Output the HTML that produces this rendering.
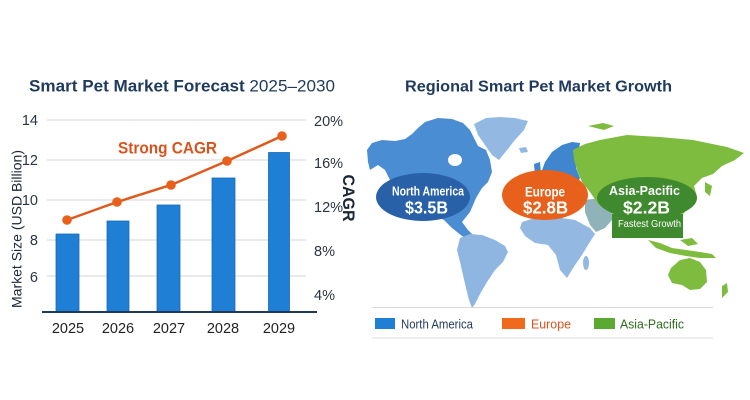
<!DOCTYPE html>
<html><head><meta charset="utf-8"><style>
html,body{margin:0;padding:0;background:#fff;}
svg{display:block;}
text{font-family:"Liberation Sans",sans-serif;}
</style></head><body>
<svg width="750" height="400" viewBox="0 0 750 400" xmlns="http://www.w3.org/2000/svg">
<rect width="750" height="400" fill="#ffffff"/>
<!-- LEFT CHART -->
<text x="29" y="91.5" font-size="17" fill="#1f3a5c" textLength="306" lengthAdjust="spacingAndGlyphs"><tspan font-weight="bold">Smart Pet Market Forecast</tspan> 2025–2030</text>
<g stroke="#d4d6d9" stroke-width="1">
<line x1="47" y1="120" x2="306" y2="120"/>
<line x1="47" y1="160" x2="306" y2="160"/>
<line x1="47" y1="200" x2="306" y2="200"/>
<line x1="47" y1="240" x2="306" y2="240"/>
<line x1="47" y1="276" x2="306" y2="276"/>
</g>
<g font-size="14.5" fill="#2b3442" text-anchor="end">
<text x="38" y="125">14</text>
<text x="38" y="165">12</text>
<text x="38" y="205">10</text>
<text x="38" y="245">8</text>
<text x="38" y="282">6</text>
</g>
<g font-size="14.5" fill="#2b3442">
<text x="314" y="126">20%</text>
<text x="314" y="168">16%</text>
<text x="314" y="212">12%</text>
<text x="314" y="256">8%</text>
<text x="314" y="300">4%</text>
</g>
<g fill="#1f7fd4" stroke="#1a6bb6" stroke-width="0.8">
<rect x="56" y="234" width="23" height="78"/>
<rect x="107" y="221" width="22" height="91"/>
<rect x="157" y="205" width="23" height="107"/>
<rect x="212" y="178" width="23" height="134"/>
<rect x="268.5" y="152.5" width="21" height="159.5"/>
</g>
<line x1="42" y1="312" x2="317" y2="312" stroke="#1f3a5c" stroke-width="2"/>
<polyline points="67,220 117,202 171,185 227,161 282,136" fill="none" stroke="#e0591c" stroke-width="2.5"/>
<g fill="#e8601c">
<circle cx="67" cy="220" r="4.8"/><circle cx="117" cy="202" r="4.8"/><circle cx="171" cy="185" r="4.8"/><circle cx="227" cy="161" r="4.8"/><circle cx="282" cy="136" r="4.8"/>
</g>
<text x="118" y="153.5" font-size="17" font-weight="bold" fill="#d9531e" textLength="99" lengthAdjust="spacingAndGlyphs">Strong CAGR</text>
<g font-size="14.5" fill="#222" text-anchor="middle">
<text x="68" y="333">2025</text>
<text x="118" y="333">2026</text>
<text x="169" y="333">2027</text>
<text x="223" y="333">2028</text>
<text x="279" y="333">2029</text>
</g>
<text transform="translate(21.5,229) rotate(-90)" font-size="14" fill="#1a2636" text-anchor="middle" textLength="158" lengthAdjust="spacingAndGlyphs">Market Size (USD Billion)</text>
<text transform="translate(343,198) rotate(90)" font-size="16.5" font-weight="bold" fill="#1a2636" text-anchor="middle" textLength="47" lengthAdjust="spacingAndGlyphs">CAGR</text>

<!-- RIGHT MAP -->
<text x="405" y="91.5" font-size="16" font-weight="bold" fill="#1f3a5c" textLength="267" lengthAdjust="spacingAndGlyphs">Regional Smart Pet Market Growth</text>
<!-- Greenland -->
<path d="M474,124 L486,118 L500,117 L515,118 L528,121 L524,130 L515,140 L507,150 L499,160 L492,155 L485,145 L478,135 Z" fill="#93b9e2"/>
<path d="M519,148 L526,147 L528,152 L521,153 Z" fill="#93b9e2"/>
<!-- North America -->
<path d="M367,150 L372,143 L382,140 L395,141 L405,139 L412,134 L418,128 L425,122 L438,118 L452,119 L463,123 L470,130 L474,138 L478,146 L486,150 L490,160 L492,172 L488,182 L482,188 L476,198 L470,212 L462,222 L468,230 L474,236 L470,240 L462,236 L452,228 L444,220 L430,212 L415,203 L400,192 L390,180 L385,170 L378,165 L370,170 L368,162 Z" fill="#4b8dd2"/>
<ellipse cx="455" cy="160" rx="7" ry="6" fill="#fff"/>
<!-- South America -->
<path d="M460,238 L470,234 L482,235 L495,240 L505,246 L508,252 L503,262 L495,270 L487,282 L480,294 L475,304 L472,308 L469,300 L466,288 L463,275 L460,262 L457,250 Z" fill="#8fb6e0"/>
<!-- Africa -->
<path d="M522,222 L535,218 L555,217 L575,220 L590,228 L595,234 L588,245 L582,255 L575,265 L567,278 L560,270 L556,255 L548,245 L535,243 L525,236 L520,228 Z" fill="#93b9e2"/>
<ellipse cx="586" cy="263" rx="3" ry="7" fill="#93b9e2"/>
<!-- Europe -->
<path d="M540,176 L545,162 L552,152 L562,145 L572,142 L580,143 L578,155 L576,168 L580,178 L575,188 L560,190 L545,188 Z" fill="#3f86cf"/>
<path d="M534,164 L540,162 L541,174 L535,175 Z" fill="#3f86cf"/>
<!-- Middle east -->
<path d="M585,200 L600,198 L612,205 L612,220 L605,228 L596,232 L590,225 L585,212 Z" fill="#8fb3b8"/>
<!-- Asia -->
<path d="M573,150 L585,144 L600,140 L627,135 L660,137 L693,140 L727,147 L744,153 L735,160 L722,166 L713,174 L702,178 L694,186 L697,197 L690,207 L683,214 L676,224 L672,236 L662,238 L652,238 L645,228 L636,222 L622,220 L610,212 L598,204 L590,192 L582,182 L577,170 L574,160 Z" fill="#7dbc3e"/>
<path d="M588,126 L603,123 L614,126 L604,130 Z" fill="#7dbc3e"/>
<path d="M705,182 L712,186 L710,196 L705,192 Z" fill="#7dbc3e"/>
<path d="M648,240 L660,243 L672,248 L686,250 L700,252 L712,254 L716,258 L700,258 L686,256 L670,253 L656,248 Z" fill="#7dbc3e"/>
<path d="M680,240 L692,238 L698,244 L688,246 Z" fill="#7dbc3e"/>
<!-- Australia -->
<path d="M671,268 L680,260 L690,258 L700,262 L706,270 L707,282 L700,289 L690,290 L682,285 L672,283 L668,275 Z" fill="#7dbc3e"/>
<path d="M722,286 L727,283 L728,292 L722,298 Z" fill="#7dbc3e"/>

<!-- Bubbles -->
<ellipse cx="423" cy="197" rx="47" ry="24" fill="#2961a9"/>
<text x="428" y="195.7" font-size="12.5" font-weight="bold" fill="#fff" text-anchor="middle" textLength="72" lengthAdjust="spacingAndGlyphs">North America</text>
<text x="426.5" y="213.3" font-size="17.5" font-weight="bold" fill="#fff" text-anchor="middle" textLength="43" lengthAdjust="spacingAndGlyphs">$3.5B</text>

<ellipse cx="545" cy="195" rx="43" ry="25" fill="#e8611c"/>
<text x="545" y="196.5" font-size="13.5" font-weight="bold" fill="#fff" text-anchor="middle" textLength="40" lengthAdjust="spacingAndGlyphs">Europe</text>
<text x="545.5" y="213.3" font-size="17.5" font-weight="bold" fill="#fff" text-anchor="middle" textLength="45" lengthAdjust="spacingAndGlyphs">$2.8B</text>

<ellipse cx="647" cy="198" rx="50" ry="21" fill="#3f8a2e"/>
<rect x="612" y="214" width="71" height="24" fill="#3f8a2e"/>
<text x="644.5" y="195" font-size="13" font-weight="bold" fill="#fff" text-anchor="middle" textLength="71" lengthAdjust="spacingAndGlyphs">Asia-Pacific</text>
<text x="646.5" y="213.3" font-size="17.5" font-weight="bold" fill="#fff" text-anchor="middle" textLength="47" lengthAdjust="spacingAndGlyphs">$2.2B</text>
<text x="649.5" y="227" font-size="10.5" fill="#fff" text-anchor="middle" textLength="63" lengthAdjust="spacingAndGlyphs">Fastest Growth</text>

<!-- Legend -->
<line x1="372" y1="307.5" x2="713" y2="307.5" stroke="#d8dadd" stroke-width="1"/>
<line x1="372" y1="338" x2="713" y2="338" stroke="#d8dadd" stroke-width="1"/>
<rect x="375" y="318" width="20" height="11" fill="#1f7fd4"/>
<text x="401" y="328.5" font-size="13" fill="#1f3a5c" textLength="72" lengthAdjust="spacingAndGlyphs">North America</text>
<rect x="502" y="318" width="23" height="11" fill="#f06a1e"/>
<text x="531" y="328.5" font-size="13" fill="#d9531e" textLength="40" lengthAdjust="spacingAndGlyphs">Europe</text>
<rect x="594" y="318" width="21" height="11" fill="#5aaa32"/>
<text x="620" y="328.5" font-size="13" fill="#2f6a1e" textLength="64" lengthAdjust="spacingAndGlyphs">Asia-Pacific</text>
</svg>
</body></html>
